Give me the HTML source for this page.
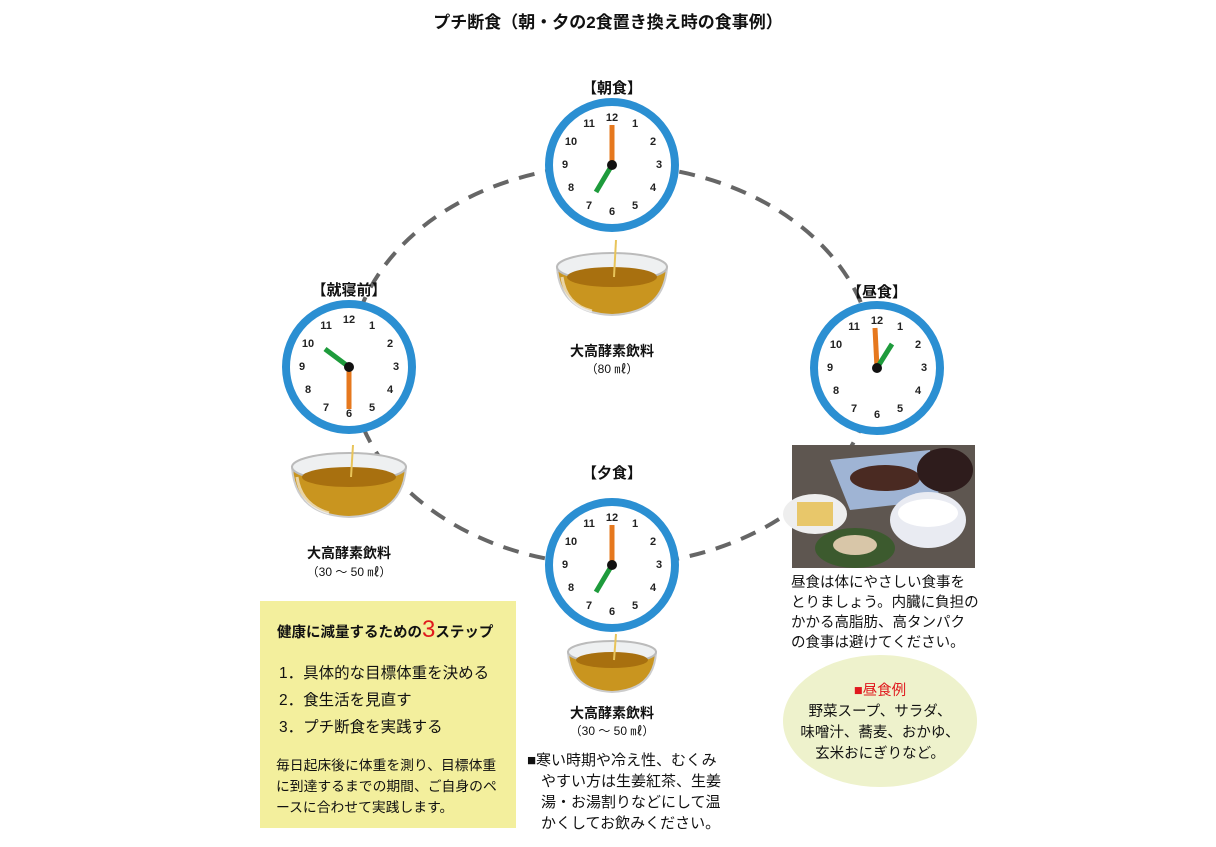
<!DOCTYPE html>
<html><head><meta charset="utf-8"><style>
html,body{margin:0;padding:0;background:#fff;}
body{width:1216px;height:842px;overflow:hidden;font-family:"Liberation Sans","Noto Sans CJK JP",sans-serif;}
svg text{font-family:"Liberation Sans","Noto Sans CJK JP",sans-serif;}
.n{font-size:11px;font-weight:bold;fill:#222;text-anchor:middle;dominant-baseline:central;}
</style></head><body>
<svg width="1216" height="842" viewBox="0 0 1216 842" xmlns="http://www.w3.org/2000/svg">
<ellipse cx="612" cy="365" rx="262" ry="200" fill="none" stroke="#666" stroke-width="4" stroke-dasharray="16 11"/>
<text x="608" y="28" font-size="17" font-weight="bold" text-anchor="middle" fill="#111">プチ断食（朝・夕の2食置き換え時の食事例）</text>

<g transform="translate(612,165)">
<circle r="63" fill="#fff" stroke="#2b8fd2" stroke-width="8"/>
<text class="n" x="0" y="-47">12</text><text class="n" x="23" y="-41">1</text><text class="n" x="41" y="-23">2</text><text class="n" x="47" y="0">3</text><text class="n" x="41" y="23">4</text><text class="n" x="23" y="41">5</text><text class="n" x="0" y="47">6</text><text class="n" x="-23" y="41">7</text><text class="n" x="-41" y="23">8</text><text class="n" x="-47" y="0">9</text><text class="n" x="-41" y="-23">10</text><text class="n" x="-23" y="-41">11</text>
<line x1="0" y1="0" x2="0" y2="-40" stroke="#e6781e" stroke-width="5"/>
<line x1="0" y1="0" x2="-16" y2="27" stroke="#1e9b3c" stroke-width="5"/>
<circle r="5" fill="#111"/>
</g>
<g transform="translate(349,367)">
<circle r="63" fill="#fff" stroke="#2b8fd2" stroke-width="8"/>
<text class="n" x="0" y="-47">12</text><text class="n" x="23" y="-41">1</text><text class="n" x="41" y="-23">2</text><text class="n" x="47" y="0">3</text><text class="n" x="41" y="23">4</text><text class="n" x="23" y="41">5</text><text class="n" x="0" y="47">6</text><text class="n" x="-23" y="41">7</text><text class="n" x="-41" y="23">8</text><text class="n" x="-47" y="0">9</text><text class="n" x="-41" y="-23">10</text><text class="n" x="-23" y="-41">11</text>
<line x1="0" y1="0" x2="0" y2="42" stroke="#e6781e" stroke-width="5"/>
<line x1="0" y1="0" x2="-24" y2="-18" stroke="#1e9b3c" stroke-width="5"/>
<circle r="5" fill="#111"/>
</g>
<g transform="translate(877,368)">
<circle r="63" fill="#fff" stroke="#2b8fd2" stroke-width="8"/>
<text class="n" x="0" y="-47">12</text><text class="n" x="23" y="-41">1</text><text class="n" x="41" y="-23">2</text><text class="n" x="47" y="0">3</text><text class="n" x="41" y="23">4</text><text class="n" x="23" y="41">5</text><text class="n" x="0" y="47">6</text><text class="n" x="-23" y="41">7</text><text class="n" x="-41" y="23">8</text><text class="n" x="-47" y="0">9</text><text class="n" x="-41" y="-23">10</text><text class="n" x="-23" y="-41">11</text>
<line x1="0" y1="0" x2="-2" y2="-40" stroke="#e6781e" stroke-width="5"/>
<line x1="0" y1="0" x2="15" y2="-24" stroke="#1e9b3c" stroke-width="5"/>
<circle r="5" fill="#111"/>
</g>
<g transform="translate(612,565)">
<circle r="63" fill="#fff" stroke="#2b8fd2" stroke-width="8"/>
<text class="n" x="0" y="-47">12</text><text class="n" x="23" y="-41">1</text><text class="n" x="41" y="-23">2</text><text class="n" x="47" y="0">3</text><text class="n" x="41" y="23">4</text><text class="n" x="23" y="41">5</text><text class="n" x="0" y="47">6</text><text class="n" x="-23" y="41">7</text><text class="n" x="-41" y="23">8</text><text class="n" x="-47" y="0">9</text><text class="n" x="-41" y="-23">10</text><text class="n" x="-23" y="-41">11</text>
<line x1="0" y1="0" x2="0" y2="-40" stroke="#e6781e" stroke-width="5"/>
<line x1="0" y1="0" x2="-16" y2="27" stroke="#1e9b3c" stroke-width="5"/>
<circle r="5" fill="#111"/>
</g>

<g font-size="15" font-weight="bold" text-anchor="middle" fill="#111">
<text x="612" y="93">【朝食】</text>
<text x="349" y="295">【就寝前】</text>
<text x="877" y="297">【昼食】</text>
<text x="612" y="478">【夕食】</text>
</g>

<g transform="translate(612,285)">
<path d="M-55,-18 Q-52,28 0,30 Q52,28 55,-18 Z" fill="#c9951f" stroke="#ccc" stroke-width="2"/>
<ellipse cx="0" cy="-18" rx="55" ry="14" fill="#eef0f1" stroke="#bbb" stroke-width="2"/>
<ellipse cx="0" cy="-8" rx="45" ry="10" fill="#a8700f"/>
<path d="M-50,-8 Q-46,20 -20,26" fill="none" stroke="#fff" stroke-width="3" opacity="0.6"/>
<line x1="4" y1="-45" x2="2" y2="-8" stroke="#e8c45a" stroke-width="2"/>
</g>
<g transform="translate(349,485)">
<path d="M-57,-18 Q-54,30 0,32 Q54,30 57,-18 Z" fill="#c9951f" stroke="#ccc" stroke-width="2"/>
<ellipse cx="0" cy="-18" rx="57" ry="14" fill="#eef0f1" stroke="#bbb" stroke-width="2"/>
<ellipse cx="0" cy="-8" rx="47" ry="10" fill="#a8700f"/>
<path d="M-52,-8 Q-48,20 -20,28" fill="none" stroke="#fff" stroke-width="3" opacity="0.6"/>
<line x1="4" y1="-40" x2="2" y2="-8" stroke="#e8c45a" stroke-width="2"/>
</g>
<g transform="translate(612,666)">
<path d="M-44,-14 Q-42,24 0,26 Q42,24 44,-14 Z" fill="#c9951f" stroke="#ccc" stroke-width="2"/>
<ellipse cx="0" cy="-14" rx="44" ry="11" fill="#eef0f1" stroke="#bbb" stroke-width="2"/>
<ellipse cx="0" cy="-6" rx="36" ry="8" fill="#a8700f"/>
<line x1="4" y1="-32" x2="2" y2="-6" stroke="#e8c45a" stroke-width="2"/>
</g>

<g text-anchor="middle" fill="#111">
<text x="612" y="356" font-size="14" font-weight="bold">大高酵素飲料</text>
<text x="612" y="373" font-size="12">（80 ㎖）</text>
<text x="349" y="558" font-size="14" font-weight="bold">大高酵素飲料</text>
<text x="349" y="576" font-size="12">（30 ～ 50 ㎖）</text>
<text x="612" y="718" font-size="14" font-weight="bold">大高酵素飲料</text>
<text x="612" y="735" font-size="12">（30 ～ 50 ㎖）</text>
</g>
<g font-size="15" fill="#111">
<text x="527" y="765">■寒い時期や冷え性、むくみ</text>
<text x="541" y="786">やすい方は生姜紅茶、生姜</text>
<text x="541" y="807">湯・お湯割りなどにして温</text>
<text x="541" y="828">かくしてお飲みください。</text>
</g>

<rect x="792" y="445" width="183" height="123" fill="#5e5650"/>
<path d="M830,460 L930,450 L940,500 L850,510 Z" fill="#9fb4d4"/>
<ellipse cx="885" cy="478" rx="35" ry="13" fill="#4a2a22"/>
<ellipse cx="945" cy="470" rx="28" ry="22" fill="#2e1c1c"/>
<ellipse cx="815" cy="514" rx="32" ry="20" fill="#eee"/>
<rect x="797" y="502" width="36" height="24" fill="#e8c76a"/>
<ellipse cx="928" cy="520" rx="38" ry="28" fill="#e9ebf2"/>
<ellipse cx="928" cy="513" rx="30" ry="14" fill="#fff"/>
<ellipse cx="855" cy="548" rx="40" ry="20" fill="#3c5a2e"/>
<ellipse cx="855" cy="545" rx="22" ry="10" fill="#d8c6a8"/>

<g font-size="14.5" fill="#111">
<text x="791" y="587">昼食は体にやさしい食事を</text>
<text x="791" y="607">とりましょう。内臓に負担の</text>
<text x="791" y="627">かかる高脂肪、高タンパク</text>
<text x="791" y="647">の食事は避けてください。</text>
</g>
<ellipse cx="880" cy="721" rx="97" ry="66" fill="#eef2cc"/>
<g font-size="14.5" text-anchor="middle" fill="#111">
<text x="880" y="695" fill="#e0191e">■昼食例</text>
<text x="880" y="716">野菜スープ、サラダ、</text>
<text x="880" y="737">味噌汁、蕎麦、おかゆ、</text>
<text x="880" y="758">玄米おにぎりなど。</text>
</g>

<rect x="260" y="601" width="256" height="227" fill="#f3ef9d"/>
<text x="277" y="637" font-size="14.5" font-weight="bold" fill="#111">健康に減量するための<tspan fill="#e0191e" font-size="24" font-weight="normal">3</tspan>ステップ</text>
<g font-size="15.5" fill="#111">
<text x="279" y="678">1．具体的な目標体重を決める</text>
<text x="279" y="705">2．食生活を見直す</text>
<text x="279" y="732">3．プチ断食を実践する</text>
</g>
<g font-size="13.8" fill="#111">
<text x="276" y="770">毎日起床後に体重を測り、目標体重</text>
<text x="276" y="791">に到達するまでの期間、ご自身のペ</text>
<text x="276" y="812">ースに合わせて実践します。</text>
</g>
</svg>
</body></html>
